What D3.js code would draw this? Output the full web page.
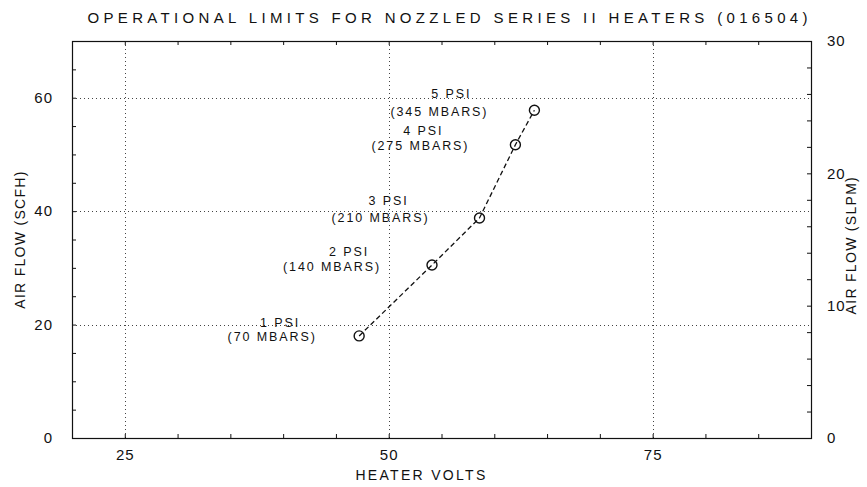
<!DOCTYPE html>
<html><head><meta charset="utf-8">
<script src="https://cdn.jsdelivr.net/npm/d3@7"></script>
<style>body{margin:0;background:#fff}svg{display:block}</style>
</head><body><svg id="c" width="867" height="487"></svg>
<script>
// ---- data ----
const voltage = [47.2, 54.1, 58.6, 62.0, 63.8];
const airflowSCFH = [18.0, 30.5, 38.8, 51.7, 57.8];
const psiLabels = ["1 PSI", "2 PSI", "3 PSI", "4 PSI", "5 PSI"];
const mbarLabels = ["(70 MBARS)", "(140 MBARS)", "(210 MBARS)", "(275 MBARS)", "(345 MBARS)"];
const xTicks = [25, 50, 75];
const yTicks = [0, 20, 40, 60];
const y2Ticks = [0, 10, 20, 30];
const xDomain = [20, 90];
const yDomain = [0, 70];
const y2Domain = [0, 30];
const titleText = "OPERATIONAL LIMITS FOR NOZZLED SERIES II HEATERS (016504)";
const xTitle = "HEATER VOLTS";
const yTitle = "AIR FLOW (SCFH)";
const y2Title = "AIR FLOW (SLPM)";

// ---- layout ----
const m = {l: 72, r: 811, t: 41, b: 438};
const FONT = "'Liberation Sans', Arial, sans-serif";
const ink = "#111";
const psiOff = [[-79, -13], [-83, -13], [-91, -17], [-92, -14], [-83, -17]];
const mbarOff = [[-87, 1], [-100, 2], [-99, 0], [-95, 1], [-95, 1]];

const svg = d3.select("#c");
const x = d3.scaleLinear().domain(xDomain).range([m.l, m.r]);
const y = d3.scaleLinear().domain(yDomain).range([m.b, m.t]);
const y2 = d3.scaleLinear().domain(y2Domain).range([m.b, m.t]);

// grid (dotted)
const grid = svg.append("g").attr("stroke", "#444").attr("stroke-width", 1).attr("stroke-dasharray", "1,3");
grid.selectAll(".gx").data(xTicks).join("line")
  .attr("x1", d => Math.round(x(d)) + 0.5).attr("x2", d => Math.round(x(d)) + 0.5)
  .attr("y1", m.t).attr("y2", m.b);
grid.selectAll(".gy").data(yTicks.filter(d => d > 0)).join("line")
  .attr("y1", d => Math.round(y(d)) + 0.5).attr("y2", d => Math.round(y(d)) + 0.5)
  .attr("x1", m.l).attr("x2", m.r);

// axes with minor ticks
const xMinor = d3.range(xDomain[0], xDomain[1] + 0.01, 5);
const yMinor = d3.range(yDomain[0], yDomain[1] + 0.01, 5);
const y2Minor = d3.range(y2Domain[0], y2Domain[1] + 0.01, 2);

function styleAxis(g) {
  g.select(".domain").remove();
  g.selectAll(".tick line").attr("stroke", ink);
  g.selectAll("text").attr("font-family", FONT)
    .attr("font-size", 15).attr("fill", ink).attr("letter-spacing", 1);
}
svg.append("g").attr("transform", `translate(0,${m.b})`)
  .call(d3.axisBottom(x).tickValues(xMinor).tickSize(-4).tickFormat(""))
  .call(styleAxis);
svg.append("g").attr("transform", `translate(0,${m.t})`)
  .call(d3.axisTop(x).tickValues(xMinor).tickSize(-4).tickFormat(""))
  .call(styleAxis);
svg.append("g").attr("transform", `translate(0,${m.b})`)
  .call(d3.axisBottom(x).tickValues(xTicks).tickSize(0).tickPadding(11).tickFormat(d3.format("d")))
  .call(styleAxis);
svg.append("g").attr("transform", `translate(${m.l},0)`)
  .call(d3.axisLeft(y).tickValues(yMinor).tickSize(-4).tickFormat(""))
  .call(styleAxis);
svg.append("g").attr("transform", `translate(${m.l},0)`)
  .call(d3.axisLeft(y).tickValues(yTicks).tickSize(0).tickPadding(19).tickFormat(d3.format("d")))
  .call(styleAxis);
svg.append("g").attr("transform", `translate(${m.r},0)`)
  .call(d3.axisRight(y2).tickValues(y2Minor).tickSize(-4).tickFormat(""))
  .call(styleAxis);
svg.append("g").attr("transform", `translate(${m.r},0)`)
  .call(d3.axisRight(y2).tickValues(y2Ticks).tickSize(0).tickPadding(16).tickFormat(d3.format("d")))
  .call(styleAxis)
  .selectAll("text").attr("text-anchor", "start");

// frame
svg.append("rect").attr("x", m.l + 0.5).attr("y", m.t + 0.5)
  .attr("width", m.r - m.l).attr("height", m.b - m.t)
  .attr("fill", "none").attr("stroke", ink).attr("stroke-width", 1.2);

// series
const pts = voltage.map((v, i) => ({v, f: airflowSCFH[i], i}));
svg.append("path").datum(pts)
  .attr("d", d3.line().x(d => x(d.v)).y(d => y(d.f)))
  .attr("fill", "none").attr("stroke", ink).attr("stroke-width", 1.3)
  .attr("stroke-dasharray", "5,3");
svg.selectAll(".pt").data(pts).join("circle")
  .attr("cx", d => x(d.v)).attr("cy", d => y(d.f)).attr("r", 5)
  .attr("fill", "none").attr("stroke", ink).attr("stroke-width", 1.4);

// annotations
const ann = svg.append("g").attr("font-family", FONT).attr("font-size", 12.5)
  .attr("fill", ink).attr("text-anchor", "middle").attr("letter-spacing", 1.9);
ann.selectAll(".psi").data(pts).join("text")
  .attr("x", d => x(d.v) + psiOff[d.i][0]).attr("y", d => y(d.f) + psiOff[d.i][1])
  .attr("dy", "0.35em").text(d => psiLabels[d.i]);
ann.selectAll(".mb").data(pts).join("text")
  .attr("x", d => x(d.v) + mbarOff[d.i][0]).attr("y", d => y(d.f) + mbarOff[d.i][1])
  .attr("dy", "0.35em").text(d => mbarLabels[d.i]);

// titles
const cx = (m.l + m.r) / 2;
svg.append("text").attr("x", cx + 6).attr("y", 23).attr("text-anchor", "middle")
  .attr("font-family", FONT).attr("font-size", 15).attr("fill", ink)
  .attr("textLength", 720).attr("lengthAdjust", "spacing").text(titleText);
svg.append("text").attr("x", cx - 20).attr("y", 480).attr("text-anchor", "middle")
  .attr("font-family", FONT).attr("font-size", 14).attr("fill", ink)
  .attr("letter-spacing", 2.3).text(xTitle);
svg.append("text").attr("transform", `translate(25,${y(35)}) rotate(-90)`).attr("text-anchor", "middle")
  .attr("font-family", FONT).attr("font-size", 14).attr("fill", ink)
  .attr("letter-spacing", 1.3).text(yTitle);
svg.append("text").attr("transform", `translate(856,${y(34)}) rotate(-90)`).attr("text-anchor", "middle")
  .attr("font-family", FONT).attr("font-size", 14).attr("fill", ink)
  .attr("letter-spacing", 1.3).text(y2Title);
</script></body></html>
